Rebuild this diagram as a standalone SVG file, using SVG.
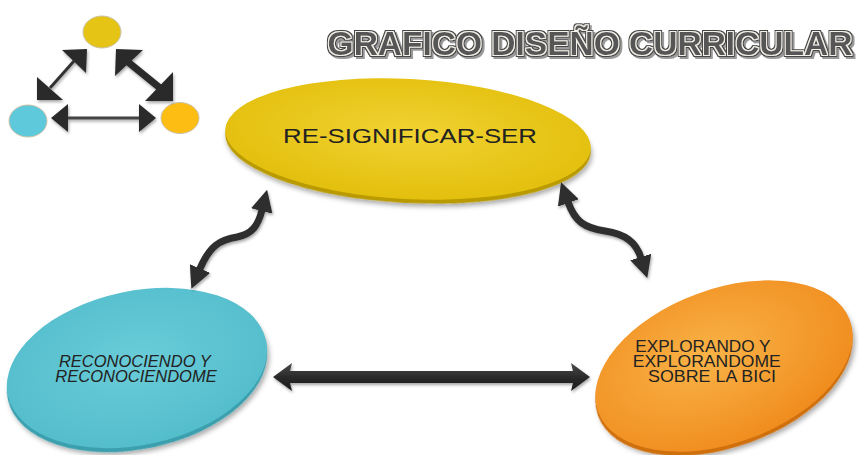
<svg xmlns="http://www.w3.org/2000/svg" width="859" height="455" viewBox="0 0 859 455">
<style>
.lbl{font-family:"Liberation Sans",Arial,sans-serif;fill:#222;}
.conn{fill:none;stroke:#2d2d2d;stroke-width:7;stroke-linecap:butt;}
.ttl{font-family:"Liberation Sans",Arial,sans-serif;font-weight:bold;font-size:33.5px;}
.dark{fill:#2b2b2b;}
</style>
<defs>
<filter id="sh" x="-20%" y="-20%" width="140%" height="150%">
<feDropShadow dx="1.5" dy="3" stdDeviation="2.5" flood-color="#000" flood-opacity="0.35"/>
</filter>
<filter id="shs" x="-20%" y="-20%" width="140%" height="150%">
<feDropShadow dx="1" dy="2" stdDeviation="1.5" flood-color="#000" flood-opacity="0.35"/>
</filter>
<filter id="ttlfx" x="-5%" y="-30%" width="110%" height="160%">
<feMorphology in="SourceAlpha" operator="dilate" radius="1.8" result="d2"/>
<feMorphology in="SourceAlpha" operator="dilate" radius="0.9" result="d1"/>
<feFlood flood-color="#9a9a9a" result="cs"/>
<feComposite in="cs" in2="d2" operator="in" result="s0"/>
<feOffset in="s0" dx="2" dy="2" result="shadow"/>
<feFlood flood-color="#454545" result="cd"/>
<feComposite in="cd" in2="d2" operator="in" result="outer"/>
<feFlood flood-color="#f4f1ea" result="cw"/>
<feComposite in="cw" in2="d1" operator="in" result="ring"/>
<feMerge>
<feMergeNode in="shadow"/>
<feMergeNode in="outer"/>
<feMergeNode in="ring"/>
<feMergeNode in="SourceGraphic"/>
</feMerge>
</filter>
<radialGradient id="gy" cx="50%" cy="45%" r="60%">
<stop offset="0" stop-color="#F0D232"/><stop offset="1" stop-color="#E2BE0A"/>
</radialGradient>
<radialGradient id="gb" cx="50%" cy="45%" r="60%">
<stop offset="0" stop-color="#6ACCD8"/><stop offset="1" stop-color="#52BCCB"/>
</radialGradient>
<radialGradient id="go" cx="45%" cy="40%" r="65%">
<stop offset="0" stop-color="#F9B347"/><stop offset="1" stop-color="#F08A1C"/>
</radialGradient>
<linearGradient id="ga" x1="0" y1="0" x2="0" y2="1">
<stop offset="0" stop-color="#4a4a4a"/><stop offset="0.5" stop-color="#2a2a2a"/><stop offset="1" stop-color="#1c1c1c"/>
</linearGradient>
<marker id="ah" markerUnits="userSpaceOnUse" viewBox="0 0 22 22" markerWidth="22" markerHeight="22" refX="1" refY="11" orient="auto-start-reverse">
<path d="M0,0 L22,11 L0,22 z" fill="#2d2d2d"/>
</marker>
</defs>
<rect width="859" height="455" fill="#fff"/>

<!-- title -->
<g id="title">
<text class="ttl" x="590" y="55" text-anchor="middle" fill="#575757" filter="url(#ttlfx)">GRAFICO DISEÑO CURRICULAR</text>
</g>

<!-- logo -->
<g id="logo">
<ellipse cx="102" cy="32" rx="19" ry="16" fill="#E6C415" stroke="#c9c2a8" stroke-width="1"/>
<ellipse cx="28" cy="121" rx="19" ry="16" fill="#5EC9DA" stroke="#c9c2a8" stroke-width="1"/>
<ellipse cx="180" cy="118" rx="19" ry="15.5" fill="#FDBD12" stroke="#c9c2a8" stroke-width="1"/>
<g filter="url(#shs)">
<line x1="50" y1="88" x2="74" y2="61" stroke="#333" stroke-width="3"/>
<polygon class="dark" points="37,100 37,77 63,100"/>
<polygon class="dark" points="87,49 62,50 86,73"/>
<line x1="128" y1="62" x2="160" y2="88" stroke="#2b2b2b" stroke-width="7"/>
<polygon class="dark" points="116,49 115,76 143,50"/>
<polygon class="dark" points="173,101 145,101 173,72"/>
<line x1="66" y1="118" x2="141" y2="118" stroke="#444" stroke-width="3"/>
<polygon class="dark" points="51,118 68,104 68,132"/>
<polygon class="dark" points="156,118 139,104 139,132"/>
</g>
</g>

<!-- nodes -->
<g id="node-resignificar">
<ellipse cx="408" cy="143" rx="183" ry="60" transform="rotate(3 408 143)" fill="#B99A05" filter="url(#sh)"/>
<ellipse cx="408" cy="139" rx="183" ry="60" transform="rotate(3 408 139)" fill="url(#gy)"/>
<text class="lbl" x="283" y="143" font-size="21" textLength="254" lengthAdjust="spacingAndGlyphs">RE-SIGNIFICAR-SER</text>
</g>

<g id="node-reconociendo">
<ellipse cx="137" cy="372" rx="132" ry="77" transform="rotate(-12 137 372)" fill="#3A9FAE" filter="url(#sh)"/>
<ellipse cx="137" cy="368" rx="132" ry="77" transform="rotate(-12 137 368)" fill="url(#gb)"/>
<text class="lbl" font-size="16.5" font-style="italic" text-anchor="middle" fill="#1f3438">
<tspan x="137" y="367">RECONOCIENDO Y</tspan>
<tspan x="136" y="381.5">RECONOCIENDOME</tspan>
</text>
</g>

<g id="node-explorando">
<ellipse cx="724" cy="370" rx="134" ry="77" transform="rotate(-20 724 370)" fill="#CF6F0C" filter="url(#sh)"/>
<ellipse cx="724" cy="366" rx="134" ry="77" transform="rotate(-20 724 366)" fill="url(#go)"/>
<text class="lbl" font-size="16.5" text-anchor="middle" fill="#3a2608">
<tspan x="705" y="352" textLength="135" lengthAdjust="spacingAndGlyphs">EXPLORANDO Y</tspan>
<tspan x="709" y="367" textLength="148" lengthAdjust="spacingAndGlyphs">EXPLORANDOME</tspan>
<tspan x="712" y="382" textLength="128" lengthAdjust="spacingAndGlyphs">SOBRE LA BICI</tspan>
</text>
</g>

<!-- connectors -->
<g id="connectors" filter="url(#shs)">
<path class="conn" d="M199.6,269.4 C210,245 220,240 237,237 C252,234 258,226 262,210" marker-start="url(#ah)" marker-end="url(#ah)"/>
<path class="conn" d="M568,202 C575,222 585,228 605,231 C625,234 636,242 641,258" marker-start="url(#ah)" marker-end="url(#ah)"/>
<polygon fill="url(#ga)" points="273,377 292,363 290,371 573,371 571,363 590,377 571,391 573,383 290,383 292,391"/>
</g>
</svg>
